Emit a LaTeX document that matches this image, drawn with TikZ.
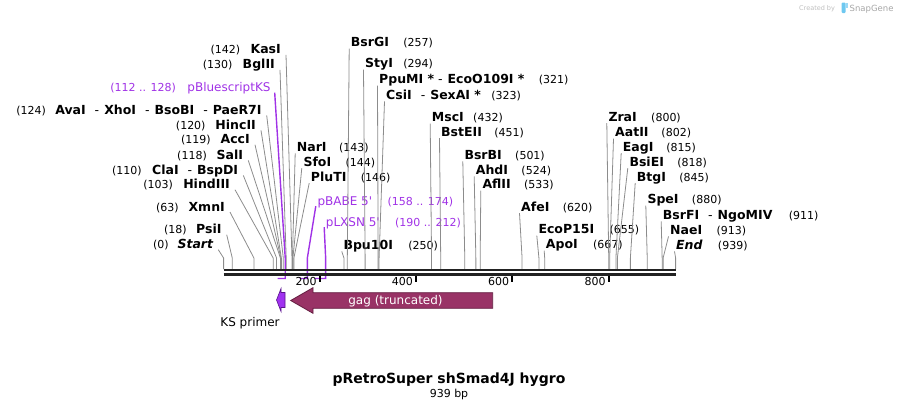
\documentclass[tikz,border=0pt]{standalone}
\usepackage{fontspec}
\setmainfont{DejaVu Sans}
\usepackage{tikz}
\usetikzlibrary{positioning}

\definecolor{featpurple}{RGB}{160,50,230}
\definecolor{cutgray}{RGB}{140,140,140}
\definecolor{bbone}{RGB}{34,34,34}
\definecolor{gagfill}{RGB}{153,51,102}
\definecolor{gagline}{RGB}{100,30,65}
\definecolor{ksfill}{RGB}{160,50,240}
\definecolor{ksline}{RGB}{90,20,140}
\definecolor{sgblue}{RGB}{110,200,240}

% bp -> x (pt)
\newcommand{\bpx}[1]{223.6+0.4814*#1}
\newcommand{\dsh}{\hspace{9pt}{\mdseries -}\hspace{5pt}}
\newcommand{\dshs}{\hspace{4pt}{\mdseries -}\hspace{5pt}}

\begin{document}
\begin{tikzpicture}[x=1pt, y=-1pt,
  enz/.style={font=\fontsize{12.5}{14}\selectfont\bfseries, inner sep=0pt},
  num/.style={font=\fontsize{11}{13}\selectfont, inner sep=0pt},
  feat/.style={font=\fontsize{12}{14}\selectfont, text=featpurple, inner sep=0pt},
  featnum/.style={num, text=featpurple},
  cut/.style={draw=cutgray, line width=0.8pt},
  fline/.style={draw=featpurple, line width=1.4pt},
  bbline/.style={draw=bbone},
  tick/.style={draw=black, line width=2pt}
]
  \useasboundingbox (0,0) rectangle (900,408);

  % sites on the backbone
  \coordinate (s0) at ({\bpx{0}},269);
  \coordinate (s18) at ({\bpx{18}},269);
  \coordinate (s63) at ({\bpx{63}},269);
  \coordinate (s103) at ({\bpx{103}},269);
  \coordinate (s110) at ({\bpx{110}},269);
  \coordinate (s118) at ({\bpx{118}},269);
  \coordinate (s119) at ({\bpx{119}},269);
  \coordinate (s120) at ({\bpx{120}},269);
  \coordinate (s124) at ({\bpx{124}},269);
  \coordinate (s130) at ({\bpx{130}},269);
  \coordinate (s142) at ({\bpx{142}},269);
  \coordinate (s143) at ({\bpx{143}},269);
  \coordinate (s144) at ({\bpx{144}},269);
  \coordinate (s146) at ({\bpx{146}},269);
  \coordinate (s250) at ({\bpx{250}},269);
  \coordinate (s257) at ({\bpx{257}},269);
  \coordinate (s294) at ({\bpx{294}},269);
  \coordinate (s321) at ({\bpx{321}},269);
  \coordinate (s323) at ({\bpx{323}},269);
  \coordinate (s432) at ({\bpx{432}},269);
  \coordinate (s451) at ({\bpx{451}},269);
  \coordinate (s501) at ({\bpx{501}},269);
  \coordinate (s524) at ({\bpx{524}},269);
  \coordinate (s533) at ({\bpx{533}},269);
  \coordinate (s620) at ({\bpx{620}},269);
  \coordinate (s655) at ({\bpx{655}},269);
  \coordinate (s667) at ({\bpx{667}},269);
  \coordinate (s800) at ({\bpx{800}},269);
  \coordinate (s802) at ({\bpx{802}},269);
  \coordinate (s815) at ({\bpx{815}},269);
  \coordinate (s818) at ({\bpx{818}},269);
  \coordinate (s845) at ({\bpx{845}},269);
  \coordinate (s880) at ({\bpx{880}},269);
  \coordinate (s911) at ({\bpx{911}},269);
  \coordinate (s913) at ({\bpx{913}},269);
  \coordinate (s939) at ({\bpx{939}},269);
  % feature ends, under the backbone
  \coordinate (f112) at ({\bpx{112}},278.5);
  \coordinate (f128) at ({\bpx{128}},278.5);
  \coordinate (f158) at ({\bpx{158}},278.5);
  \coordinate (f174) at ({\bpx{174}},278.5);
  \coordinate (f190) at ({\bpx{190}},278.5);
  \coordinate (f212) at ({\bpx{212}},278.5);

  % labels left of their lines
  \node[enz, anchor=base east] (kasi) at (281,53.9) {KasI};
  \node[num, anchor=base east] (kasi-n) at ([xshift=-10pt]kasi.base west) {(142)};
  \node[enz, anchor=base east] (bglii) at (275,68.9) {BglII};
  \node[num, anchor=base east] (bglii-n) at ([xshift=-10pt]bglii.base west) {(130)};
  \node[feat, anchor=base east] (ks) at (270.7,91.7) {pBluescriptKS};
  \node[featnum, anchor=base east] (ks-n) at ([xshift=-11pt]ks.base west) {(112 .. 128)};
  \node[enz, anchor=base east] (avai) at (261.7,114.4) {AvaI\dsh XhoI\dsh BsoBI\dsh PaeR7I};
  \node[num, anchor=base east] (avai-n) at ([xshift=-9pt]avai.base west) {(124)};
  \node[enz, anchor=base east] (hincii) at (256,129.4) {HincII};
  \node[num, anchor=base east] (hincii-n) at ([xshift=-9.5pt]hincii.base west) {(120)};
  \node[enz, anchor=base east] (acci) at (250,143.7) {AccI};
  \node[num, anchor=base east] (acci-n) at ([xshift=-9.5pt]acci.base west) {(119)};
  \node[enz, anchor=base east] (sali) at (243.3,159.4) {SalI};
  \node[num, anchor=base east] (sali-n) at ([xshift=-9.5pt]sali.base west) {(118)};
  \node[enz, anchor=base east] (clai) at (238.3,174.4) {ClaI\dsh BspDI};
  \node[num, anchor=base east] (clai-n) at ([xshift=-10pt]clai.base west) {(110)};
  \node[enz, anchor=base east] (hindiii) at (230,188.7) {HindIII};
  \node[num, anchor=base east] (hindiii-n) at ([xshift=-10pt]hindiii.base west) {(103)};
  \node[enz, anchor=base east] (xmni) at (225,211.1) {XmnI};
  \node[num, anchor=base east] (xmni-n) at ([xshift=-9.5pt]xmni.base west) {(63)};
  \node[enz, anchor=base east] (psii) at (221.7,233.7) {PsiI};
  \node[num, anchor=base east] (psii-n) at ([xshift=-9pt]psii.base west) {(18)};
  \node[enz, anchor=base east] (startlbl) at (213.3,248.7) {\itshape Start};
  \node[num, anchor=base east] (startlbl-n) at ([xshift=-8.5pt]startlbl.base west) {(0)};

  % labels right of their lines
  \node[enz, anchor=base west] (bsrgi) at (350.7,46.7) {BsrGI};
  \node[num, anchor=base west] (bsrgi-n) at ([xshift=14pt]bsrgi.base east) {(257)};
  \node[enz, anchor=base west] (styi) at (365,67.7) {StyI};
  \node[num, anchor=base west] (styi-n) at ([xshift=10pt]styi.base east) {(294)};
  \node[enz, anchor=base west] (ppumi) at (379,83.7) {PpuMI *\dshs EcoO109I *};
  \node[num, anchor=base west] (ppumi-n) at ([xshift=14pt]ppumi.base east) {(321)};
  \node[enz, anchor=base west] (csii) at (386,99.4) {CsiI\dsh SexAI *};
  \node[num, anchor=base west] (csii-n) at ([xshift=10pt]csii.base east) {(323)};
  \node[enz, anchor=base west] (msci) at (431.7,121.7) {MscI};
  \node[num, anchor=base west] (msci-n) at ([xshift=9pt]msci.base east) {(432)};
  \node[enz, anchor=base west] (bsteii) at (441,136.1) {BstEII};
  \node[num, anchor=base west] (bsteii-n) at ([xshift=12pt]bsteii.base east) {(451)};
  \node[enz, anchor=base west] (nari) at (296.7,151.4) {NarI};
  \node[num, anchor=base west] (nari-n) at ([xshift=12pt]nari.base east) {(143)};
  \node[enz, anchor=base west] (sfoi) at (303.3,166.1) {SfoI};
  \node[num, anchor=base west] (sfoi-n) at ([xshift=14pt]sfoi.base east) {(144)};
  \node[enz, anchor=base west] (pluti) at (310.7,181.1) {PluTI};
  \node[num, anchor=base west] (pluti-n) at ([xshift=14pt]pluti.base east) {(146)};
  \node[feat, anchor=base west] (babe) at (317.3,205.1) {pBABE 5\textquotesingle};
  \node[featnum, anchor=base west] (babe-n) at ([xshift=15pt]babe.base east) {(158 .. 174)};
  \node[feat, anchor=base west] (lxsn) at (325.7,226.1) {pLXSN 5\textquotesingle};
  \node[featnum, anchor=base west] (lxsn-n) at ([xshift=15pt]lxsn.base east) {(190 .. 212)};
  \node[enz, anchor=base west] (bpu) at (343.3,249.4) {Bpu10I};
  \node[num, anchor=base west] (bpu-n) at ([xshift=15pt]bpu.base east) {(250)};
  \node[enz, anchor=base west] (bsrbi) at (464.3,159.4) {BsrBI};
  \node[num, anchor=base west] (bsrbi-n) at ([xshift=13pt]bsrbi.base east) {(501)};
  \node[enz, anchor=base west] (ahdi) at (475.7,174.4) {AhdI};
  \node[num, anchor=base west] (ahdi-n) at ([xshift=13pt]ahdi.base east) {(524)};
  \node[enz, anchor=base west] (aflii) at (482.3,188.7) {AflII};
  \node[num, anchor=base west] (aflii-n) at ([xshift=13pt]aflii.base east) {(533)};
  \node[enz, anchor=base west] (afei) at (521,211.1) {AfeI};
  \node[num, anchor=base west] (afei-n) at ([xshift=13pt]afei.base east) {(620)};
  \node[enz, anchor=base west] (ecop) at (538.3,233.7) {EcoP15I};
  \node[num, anchor=base west] (ecop-n) at ([xshift=15pt]ecop.base east) {(655)};
  \node[enz, anchor=base west] (apoi) at (545.7,248.7) {ApoI};
  \node[num, anchor=base west] (apoi-n) at ([xshift=15pt]apoi.base east) {(667)};
  \node[enz, anchor=base west] (zrai) at (608.3,121.1) {ZraI};
  \node[num, anchor=base west] (zrai-n) at ([xshift=14pt]zrai.base east) {(800)};
  \node[enz, anchor=base west] (aatii) at (615,136.7) {AatII};
  \node[num, anchor=base west] (aatii-n) at ([xshift=12.5pt]aatii.base east) {(802)};
  \node[enz, anchor=base west] (eagi) at (622.7,151.1) {EagI};
  \node[num, anchor=base west] (eagi-n) at ([xshift=12.5pt]eagi.base east) {(815)};
  \node[enz, anchor=base west] (bsiei) at (629.3,166.1) {BsiEI};
  \node[num, anchor=base west] (bsiei-n) at ([xshift=13pt]bsiei.base east) {(818)};
  \node[enz, anchor=base west] (btgi) at (636.7,181.1) {BtgI};
  \node[num, anchor=base west] (btgi-n) at ([xshift=13pt]btgi.base east) {(845)};
  \node[enz, anchor=base west] (spei) at (647.3,203.7) {SpeI};
  \node[num, anchor=base west] (spei-n) at ([xshift=13pt]spei.base east) {(880)};
  \node[enz, anchor=base west] (bsrfi) at (662.7,219.4) {BsrFI\dsh NgoMIV};
  \node[num, anchor=base west] (bsrfi-n) at ([xshift=16pt]bsrfi.base east) {(911)};
  \node[enz, anchor=base west] (naei) at (670,234.4) {NaeI};
  \node[num, anchor=base west] (naei-n) at ([xshift=14pt]naei.base east) {(913)};
  \node[enz, anchor=base west] (endlbl) at (676,249.4) {\itshape End};
  \node[num, anchor=base west] (endlbl-n) at ([xshift=15pt]endlbl.base east) {(939)};

  % site lines, left labels
  \draw[cut] ([xshift=5pt,yshift=-1pt]kasi.base east) -- ([yshift=11pt]s142) -- (s142);
  \draw[cut] ([xshift=5pt,yshift=-1pt]bglii.base east) -- ([yshift=11pt]s130) -- (s130);
  \draw[cut] ([xshift=5pt,yshift=-1pt]avai.base east) -- ([yshift=11pt]s124) -- (s124);
  \draw[cut] ([xshift=5pt,yshift=-1pt]hincii.base east) -- ([yshift=11pt]s120) -- (s120);
  \draw[cut] ([xshift=5pt,yshift=-1pt]acci.base east) -- ([yshift=11pt]s119) -- (s119);
  \draw[cut] ([xshift=5pt,yshift=-1pt]sali.base east) -- ([yshift=11pt]s118) -- (s118);
  \draw[cut] ([xshift=5pt,yshift=-1pt]clai.base east) -- ([yshift=11pt]s110) -- (s110);
  \draw[cut] ([xshift=5pt,yshift=-1pt]hindiii.base east) -- ([yshift=11pt]s103) -- (s103);
  \draw[cut] ([xshift=5pt,yshift=-1pt]xmni.base east) -- ([yshift=11pt]s63) -- (s63);
  \draw[cut] ([xshift=5pt,yshift=-1pt]psii.base east) -- ([yshift=11pt]s18) -- (s18);
  \draw[cut] ([xshift=5pt,yshift=-1pt]startlbl.base east) -- ([yshift=11pt]s0) -- (s0);

  % site lines, right labels
  \draw[cut] ([xshift=-1.5pt,yshift=-2pt]bsrgi.base west) -- ([yshift=11pt]s257) -- (s257);
  \draw[cut] ([xshift=-1.5pt,yshift=-2pt]styi.base west) -- ([yshift=11pt]s294) -- (s294);
  \draw[cut] ([xshift=-1.5pt,yshift=-2pt]ppumi.base west) -- ([yshift=11pt]s321) -- (s321);
  \draw[cut] ([xshift=-1.5pt,yshift=-2pt]csii.base west) -- ([yshift=11pt]s323) -- (s323);
  \draw[cut] ([xshift=-1.5pt,yshift=-2pt]msci.base west) -- ([yshift=11pt]s432) -- (s432);
  \draw[cut] ([xshift=-1.5pt,yshift=-2pt]bsteii.base west) -- ([yshift=11pt]s451) -- (s451);
  \draw[cut] ([xshift=-1.5pt,yshift=-2pt]nari.base west) -- ([yshift=11pt]s143) -- (s143);
  \draw[cut] ([xshift=-1.5pt,yshift=-2pt]sfoi.base west) -- ([yshift=11pt]s144) -- (s144);
  \draw[cut] ([xshift=-1.5pt,yshift=-2pt]pluti.base west) -- ([yshift=11pt]s146) -- (s146);
  \draw[cut] ([xshift=-1.5pt,yshift=-2pt]bpu.base west) -- ([yshift=11pt]s250) -- (s250);
  \draw[cut] ([xshift=-1.5pt,yshift=-2pt]bsrbi.base west) -- ([yshift=11pt]s501) -- (s501);
  \draw[cut] ([xshift=-1.5pt,yshift=-2pt]ahdi.base west) -- ([yshift=11pt]s524) -- (s524);
  \draw[cut] ([xshift=-1.5pt,yshift=-2pt]aflii.base west) -- ([yshift=11pt]s533) -- (s533);
  \draw[cut] ([xshift=-1.5pt,yshift=-2pt]afei.base west) -- ([yshift=11pt]s620) -- (s620);
  \draw[cut] ([xshift=-1.5pt,yshift=-2pt]ecop.base west) -- ([yshift=11pt]s655) -- (s655);
  \draw[cut] ([xshift=-1.5pt,yshift=-2pt]apoi.base west) -- ([yshift=11pt]s667) -- (s667);
  \draw[cut] ([xshift=-1.5pt,yshift=-2pt]zrai.base west) -- ([yshift=11pt]s800) -- (s800);
  \draw[cut] ([xshift=-1.5pt,yshift=-2pt]aatii.base west) -- ([yshift=11pt]s802) -- (s802);
  \draw[cut] ([xshift=-1.5pt,yshift=-2pt]eagi.base west) -- ([yshift=11pt]s815) -- (s815);
  \draw[cut] ([xshift=-1.5pt,yshift=-2pt]bsiei.base west) -- ([yshift=11pt]s818) -- (s818);
  \draw[cut] ([xshift=-1.5pt,yshift=-2pt]btgi.base west) -- ([yshift=11pt]s845) -- (s845);
  \draw[cut] ([xshift=-1.5pt,yshift=-2pt]spei.base west) -- ([yshift=11pt]s880) -- (s880);
  \draw[cut] ([xshift=-1.5pt,yshift=-2pt]bsrfi.base west) -- ([yshift=11pt]s911) -- (s911);
  \draw[cut] ([xshift=-1.5pt,yshift=-2pt]naei.base west) -- ([yshift=11pt]s913) -- (s913);
  \draw[cut] ([xshift=-1.5pt,yshift=-2pt]endlbl.base west) -- ([yshift=11pt]s939) -- (s939);

  % primer / feature brackets
  \draw[fline] ([xshift=4pt,yshift=-1pt]ks.base east) -- ([yshift=20.5pt]f128) -- (f128) -- (f112);
  \draw[fline] ([xshift=-1.5pt,yshift=-1pt]babe.base west) -- ([yshift=20.5pt]f174) -- (f174) -- (f158);
  \draw[fline] ([xshift=-1.5pt,yshift=-1pt]lxsn.base west) -- ([yshift=20.5pt]f212) -- (f212) -- (f190);

  % backbone
  \draw[bbline, line width=2.4pt] ({\bpx{0}},270.2) -- ({\bpx{939}},270.2);
  \draw[bbline, line width=3pt] ({\bpx{0}},274.2) -- ({\bpx{939}},274.2);

  % ticks
  \draw[tick] ({\bpx{200}},275.5) -- ({\bpx{200}},282.3);
  \draw[tick] ({\bpx{400}},275.5) -- ({\bpx{400}},282.3);
  \draw[tick] ({\bpx{600}},275.5) -- ({\bpx{600}},282.3);
  \draw[tick] ({\bpx{800}},275.5) -- ({\bpx{800}},282.3);
  \node[num, anchor=base east] (t200) at ({\bpx{200}-3},285.7) {200};
  \node[num, anchor=base east] (t400) at ({\bpx{400}-3},285.7) {400};
  \node[num, anchor=base east] (t600) at ({\bpx{600}-3},285.7) {600};
  \node[num, anchor=base east] (t800) at ({\bpx{800}-3},285.7) {800};

  % features
  \filldraw[fill=ksfill, draw=ksline, line width=0.6pt]
    (285,292.5) -- (281,292.5) -- (281,288.5) -- (276.5,300) -- (281,311.5) -- (281,307.5) -- (285,307.5) -- cycle;
  \node[font=\fontsize{12}{14}\selectfont, anchor=base] (kslbl) at (250,326.4) {KS primer};

  \filldraw[fill=gagfill, draw=gagline, line width=0.8pt]
    (492.7,292.7) -- (313,292.7) -- (313,287.7) -- (290.7,300.5) -- (313,313.3) -- (313,308.3) -- (492.7,308.3) -- cycle;
  \node[font=\fontsize{12}{14}\selectfont, text=white, anchor=base] (gag) at (395.5,304) {gag (truncated)};

  % title
  \node[font=\fontsize{14}{16}\selectfont\bfseries, anchor=base] (title) at (449,383.4) {pRetroSuper shSmad4J hygro};
  \node[num, anchor=base] (size) at (449,397.3) {939 bp};

  % corner mark
  \node[font=\fontsize{6.5}{8}\selectfont, text=black!25, anchor=base east] (made) at (838.5,10) {Created by};
  \fill[sgblue, rounded corners=1pt] (841.5,2.5) rectangle (845.5,13);
  \fill[sgblue!70] (845.5,3) rectangle (847.5,8);
  \node[font=\fontsize{8.5}{10}\selectfont, text=black!35, anchor=base east] (sg) at (897,11) {SnapGene};
\end{tikzpicture}
\end{document}
